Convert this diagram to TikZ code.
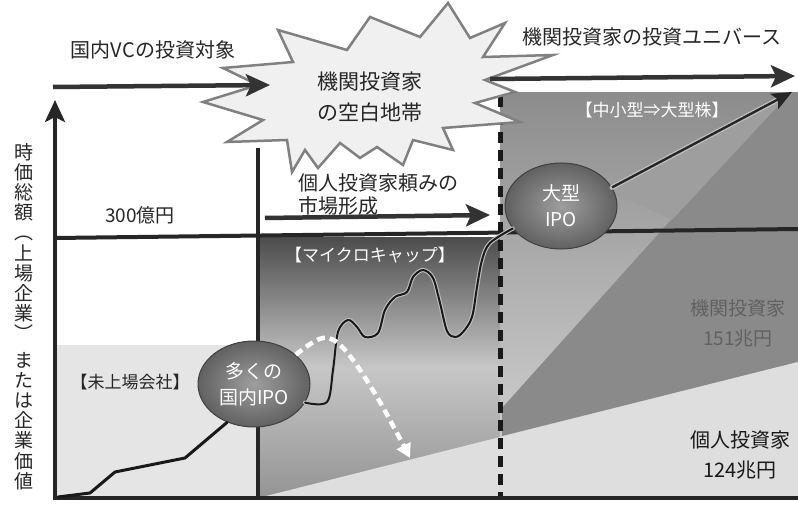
\documentclass[tikz,border=0pt]{standalone}
\usepackage{fontspec}
\setmainfont{Noto Sans CJK JP}
\usetikzlibrary{arrows.meta,shapes.geometric,calc}
\tikzset{
  axisline/.style={line width=4pt, black!85},
  bigarrow/.style={line width=4.5pt, black!80, -{Stealth[length=24pt,width=22pt,inset=5pt]}},
  lbl/.style={inner sep=0pt, font=\fontsize{19}{22}\selectfont, text=black!85},
  ipo/.style={ellipse, minimum width=112pt, minimum height=86pt, inner sep=0pt,
    draw=black!75, line width=1pt, inner color=black!38, outer color=black!62,
    text=white, align=center, font=\fontsize{19}{26}\selectfont},
  burst/.style={fill=black!6, draw=black!50, line width=2.5pt, line join=miter},
  halo/.style={white!75!black, line width=4.2pt, line cap=round, line join=round},
  trend/.style={black!90, line width=2pt, line cap=round, line join=round},
  whitearrow/.style={white, line width=4.5pt, dash pattern=on 8pt off 5pt,
    -{Triangle[length=14pt,width=15pt]}},
}
\begin{document}
\begin{tikzpicture}[x=1pt,y=-1pt]
\useasboundingbox (0,0) rectangle (798,505);
% ---------- regions ----------
\fill[black!10] (57,345) rectangle (258,497);
\shade[top color=black!70, bottom color=black!42, middle color=black!22] (258,238) rectangle (500,497);
\shade[top color=black!45, bottom color=black!15] (500,93) rectangle (798,497);
\fill[black!46] (502,436) -- (798,362) -- (798,93) -- (785,93) -- (502,408) -- cycle;
\fill[black!38] (607,190) -- (790,93) -- (672,220) -- cycle;
\fill[black!13] (262,497) -- (798,497) -- (798,362) -- cycle;
% ---------- coordinates ----------
\coordinate (ybot) at (55,500);
\coordinate (ytop) at (55,100);
\coordinate (xl) at (53,498);
\coordinate (xr) at (798,498);
\coordinate (ml) at (55,238);
\coordinate (mr) at (798,229);
\coordinate (vt) at (258,148);
\coordinate (vb) at (258,498);
\coordinate (dt) at (500,96);
\coordinate (db) at (500,498);
\coordinate (a1s) at (53,87);
\coordinate (a1e) at (270,85);
\coordinate (a2s) at (490,79);
\coordinate (a2e) at (795,76);
\coordinate (a3s) at (265,218);
\coordinate (a3e) at (490,215);
\coordinate (orig) at (58,497);
\coordinate (wend) at (410,458);
\coordinate (tip) at (792,92);
% ---------- lines ----------
\draw[axisline] (vt) -- (vb);
\draw[axisline] (ml) -- (mr);
\draw[line width=5pt, black!90, dash pattern=on 11pt off 7pt] (dt) -- (db);
\draw[axisline] (xl) -- (xr);
\draw[axisline, -{Stealth[length=22pt,width=20pt,inset=5pt]}] (ybot) -- (ytop);
% ---------- starburst ----------
\draw[burst] (278,30) -- (347,50) -- (370,17) -- (420,37) -- (448,3) -- (470,38) -- (505,23)
  -- (483,57) -- (553,55) -- (485,80) -- (515,92) -- (475,103) -- (520,122) -- (443,128)
  -- (453,150) -- (413,140) -- (403,165) -- (377,147) -- (360,158) -- (340,143) -- (318,168)
  -- (305,150) -- (292,172) -- (287,140) -- (227,142) -- (263,120) -- (203,102) -- (258,85)
  -- (223,68) -- (293,62) -- cycle;
\node[lbl, align=center, font=\fontsize{21}{31}\selectfont] (gap) at (370,97) {機関投資家\\の空白地帯};
% ---------- arrows ----------
\draw[bigarrow] (a1s) -- (a1e);
\draw[bigarrow] (a2s) -- (a2e);
\draw[bigarrow] (a3s) -- (a3e);
% ---------- texts ----------
\node[lbl, font=\fontsize{20}{22}\selectfont] (vc) at (153,50) {国内VCの投資対象};
\node[lbl, font=\fontsize{20}{22}\selectfont] (univ) at (652,37) {機関投資家の投資ユニバース};
\node[lbl] (oku) at (140,215) {300億円};
\node[lbl, anchor=west, align=left, font=\fontsize{20}{23}\selectfont] (kojin) at (298,194) {個人投資家頼みの\\市場形成};
\node[lbl, text=white, font=\fontsize{17}{20}\selectfont] (micro) at (370,255) {【マイクロキャップ】};
\node[lbl, text=white!88, font=\fontsize{17}{20}\selectfont] (chusho) at (652,110) {【中小型⇒大型株】};
\node[lbl, font=\fontsize{17}{20}\selectfont] (mijo) at (130,382) {【未上場会社】};
\node[lbl, text=black!62, align=center, font=\fontsize{19}{30}\selectfont] (kikan) at (738,323) {機関投資家\\151兆円};
\node[lbl, text=black!90, align=center, font=\fontsize{20}{30}\selectfont] (indiv) at (740,455) {個人投資家\\124兆円};
\node[lbl, anchor=north, align=center, font=\fontsize{19}{20.2}\selectfont] (ylab) at (24,143)
  {時\\価\\総\\額\\︵\\上\\場\\企\\業\\︶\\[6pt]ま\\た\\は\\企\\業\\価\\値};
% ---------- IPO balls ----------
\node[ipo] (ipo1) at (254,384) {多くの\\国内IPO};
\node[ipo] (ipo2) at (561,206) {大型\\IPO};
% ---------- trend lines ----------
\draw[trend, line width=3pt] (orig) -- (90,493) -- (115,472) -- (185,458) -- (ipo1.235);
\draw[halo] plot[smooth, tension=0.55] coordinates {(ipo1.-20) (327,402) (333,370) (338,332) (348,320) (357,327) (365,337) (378,333) (385,310) (395,297) (407,292) (413,277) (423,270) (433,278) (440,303) (447,331) (455,337) (463,332) (472,317) (477,287) (482,260) (490,243) (ipo2.205)};
\draw[trend] plot[smooth, tension=0.55] coordinates {(ipo1.-20) (327,402) (333,370) (338,332) (348,320) (357,327) (365,337) (378,333) (385,310) (395,297) (407,292) (413,277) (423,270) (433,278) (440,303) (447,331) (455,337) (463,332) (472,317) (477,287) (482,260) (490,243) (ipo2.205)};
\draw[whitearrow] plot[smooth, tension=0.6] coordinates {(ipo1.35) (323,338) (345,350) (377,397) (wend)};
\draw[white!75!black, line width=5pt, line cap=round] (ipo2.20) -- ($(tip)!10pt!(ipo2.20)$);
\draw[black!85, line width=2.4pt, -{Stealth[length=20pt,width=17pt,inset=4pt]}] (ipo2.20) -- (tip);
\end{tikzpicture}
\end{document}
